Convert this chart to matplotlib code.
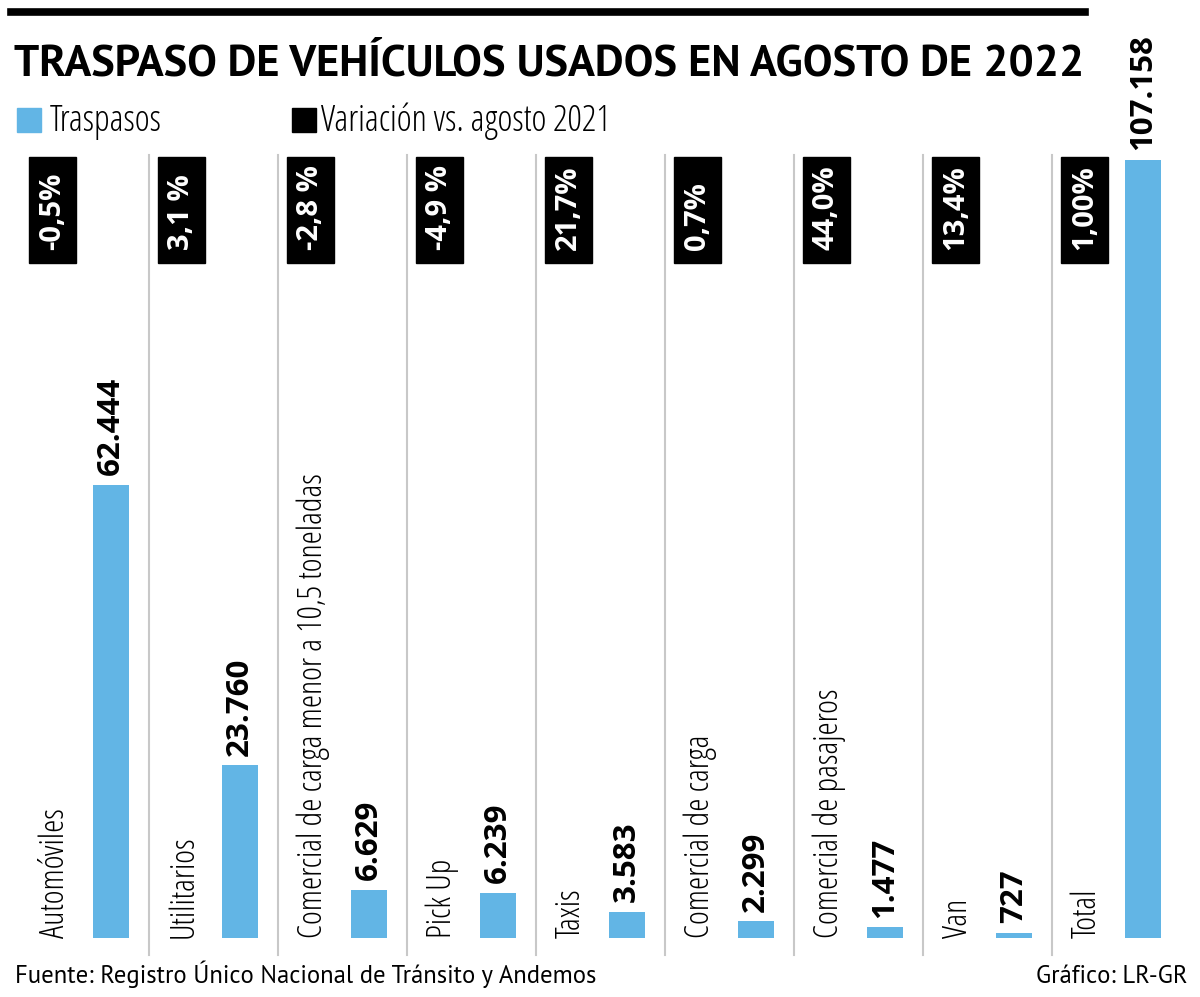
import matplotlib
matplotlib.use("Agg")
import matplotlib.pyplot as plt
from matplotlib import font_manager
from matplotlib.patches import Rectangle
from matplotlib.transforms import blended_transform_factory

categorias = ["Automóviles", "Utilitarios", "Comercial de carga menor a 10,5 toneladas",
              "Pick Up", "Taxis", "Comercial de carga", "Comercial de pasajeros", "Van", "Total"]
traspasos = [62444, 23760, 6629, 6239, 3583, 2299, 1477, 727, 107158]
etiquetas = ["62.444", "23.760", "6.629", "6.239", "3.583", "2.299", "1.477", "727", "107.158"]
variacion = ["-0,5%", "3,1 %", "-2,8 %", "-4,9 %", "21,7%", "0,7%", "44,0%", "13,4%", "1,00%"]

AZUL = "#62b5e5"
installed = {f.name for f in font_manager.fontManager.ttflist}


def pick(*fams):
    for f in fams:
        if f in installed:
            return f
    return "DejaVu Sans"


# condensed faces standing in for Myriad Condensed
COND = pick("Open Sans", "Roboto Condensed")
REG = pick("PT Sans", "Open Sans")
light = dict(family=COND, fontstretch="condensed", fontweight=300)
bold = dict(family=COND, fontstretch="condensed", fontweight="bold")

fig = plt.figure(figsize=(12, 9.97), dpi=100)
W, H = 1200, 997

# chart area in pixels: x 20..1181, y 140..960
ax = fig.add_axes([20 / W, (H - 960) / H, 1161 / W, 820 / H])
ax.set_xlim(0, 9)
ax.set_ylim(-3030, 109910)
ax.axis("off")
trans = blended_transform_factory(ax.transData, ax.transAxes)

for i, (cat, val, lab, var) in enumerate(zip(categorias, traspasos, etiquetas, variacion)):
    xc = i + 0.705
    ax.bar(xc, val, width=0.28, color=AZUL)
    ax.annotate(lab, (xc, val), xytext=(0, 7), textcoords="offset points",
                rotation=90, ha="center", va="bottom", fontsize=22.5, **bold)
    ax.text(i + 0.27, 0, cat, rotation=90, ha="center", va="bottom",
            fontsize=24, **light)
    ax.add_patch(Rectangle((i + 0.07, 0.85), 0.364, 0.129, transform=trans,
                           color="black", clip_on=False))
    ax.text(i + 0.25, 0.866, var, rotation=90, ha="center", va="bottom",
            transform=trans, color="white", fontsize=21, **bold)
    if i > 0:
        ax.axvline(i, ymin=0.006, ymax=0.982, color="#c8c8c8", lw=1.5)

# top rule and title
fig.add_artist(plt.Line2D([11 / W, 1085 / W], [1 - 12 / H, 1 - 12 / H], color="black", lw=5.5))
fig.text(14 / W, 1 - 75 / H, "TRASPASO DE VEHÍCULOS USADOS EN AGOSTO DE 2022",
         fontsize=32, fontweight="bold", family=REG, va="baseline")

# legend
fig.add_artist(Rectangle((17 / W, 1 - 132 / H), 24 / W, 24 / H, color=AZUL))
fig.text(50 / W, 1 - 131 / H, "Traspasos", fontsize=26, va="baseline", **light)
fig.add_artist(Rectangle((292 / W, 1 - 132 / H), 24 / W, 24 / H, color="black"))
fig.text(321 / W, 1 - 131 / H, "Variación vs. agosto 2021", fontsize=26,
         va="baseline", **light)

# footer
fig.text(15 / W, 1 - 983 / H, "Fuente: Registro Único Nacional de Tránsito y Andemos",
         fontsize=17.7, family=REG, va="baseline")
fig.text(1187 / W, 1 - 983 / H, "Gráfico: LR-GR", fontsize=17.7, family=REG,
         va="baseline", ha="right")

fig.savefig("out.png", dpi=100, facecolor="white")
